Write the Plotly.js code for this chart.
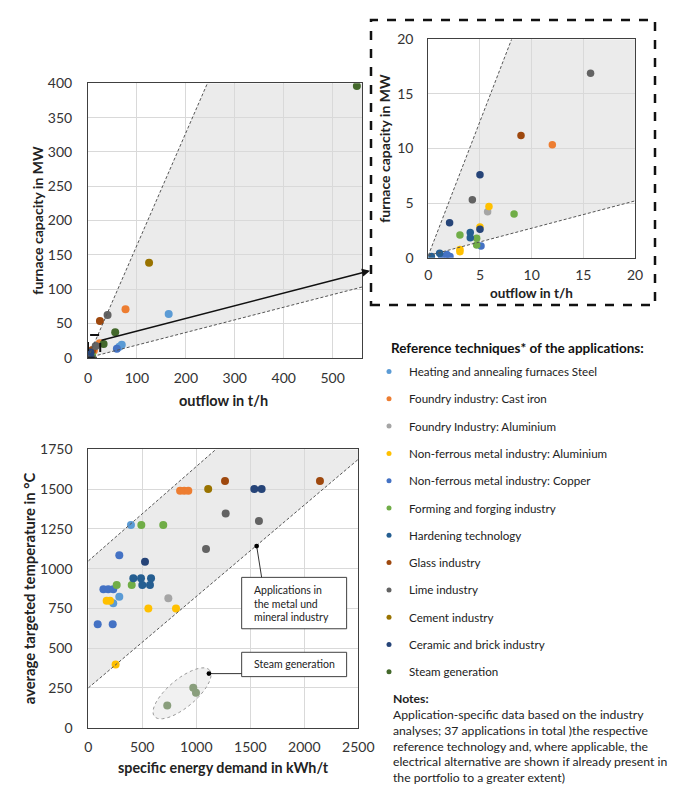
<!DOCTYPE html>
<html>
<head>
<meta charset="utf-8">
<script src="https://cdn.plot.ly/plotly-3.0.1.min.js"></script>
<style>html,body{margin:0;padding:0;background:#fff;}#chart{width:697px;height:805px;}</style>
</head>
<body>
<div id="chart"></div>
<script>
// ---------- DATA ----------
const categories = [
  "Heating and annealing furnaces Steel",
  "Foundry industry: Cast iron",
  "Foundry Industry: Aluminium",
  "Non-ferrous metal industry: Aluminium",
  "Non-ferrous metal industry: Copper",
  "Forming and forging industry",
  "Hardening technology",
  "Glass industry",
  "Lime industry",
  "Cement industry",
  "Ceramic and brick industry",
  "Steam generation"
];
const colors = ["#5B9BD5","#ED7D31","#A5A5A5","#FFC000","#4472C4","#70AD47",
                "#255E91","#9E480E","#636363","#997300","#264478","#43682B"];

// outflow in t/h (top charts)
const outflow = [
  [164.9, 69, 64],
  [76.7, 12.0, 24],
  [5.74],
  [5.87, 5.0, 3.06, 3.06],
  [5.1, 1.3, 1.8, 2.1, 59],
  [8.3, 3.06, 4.68, 4.68],
  [4.06, 4.06, 1.1, 0.3],
  [8.97, 24.4],
  [15.7, 4.26, 40],
  [124.8],
  [5.0, 2.06, 5.0],
  [549.5, 55.6, 31.9]
];
// furnace capacity in MW (top charts)
const capacity = [
  [63.7, 19, 16],
  [70.5, 10.35, 21],
  [4.2],
  [4.7, 2.8, 0.76, 0.55],
  [1.07, 0.1, 0.3, 0.1, 13],
  [4.0, 2.07, 1.77, 1.16],
  [2.3, 1.83, 0.4, 0.1],
  [11.2, 53.5],
  [16.9, 5.3, 62.2],
  [138.5],
  [7.6, 3.2, 2.6],
  [396, 37, 20]
];
// specific energy demand in kWh/t (bottom chart)
const energy = [
  [395, 287, 231],
  [850, 888, 926],
  [741],
  [170, 201, 556, 812, 253],
  [287, 140, 185, 231, 87, 226],
  [491, 694, 263, 402],
  [417, 488, 581, 500, 571],
  [1266, 2145],
  [1272, 1580, 1090],
  [1110],
  [525, 1537, 1605],
  [731, 972, 997]
];
// average targeted temperature in °C (bottom chart)
const temperature = [
  [1274, 823, 782],
  [1490, 1490, 1490],
  [813],
  [798, 798, 750, 750, 398],
  [1084, 870, 870, 870, 650, 650],
  [1274, 1274, 897, 897],
  [939, 939, 939, 897, 897],
  [1551, 1551],
  [1347, 1299, 1124],
  [1500],
  [1043, 1500, 1500],
  [140, 251, 220]
];
// axis titles
const xTitleTop = "outflow in t/h";
const yTitleTop = "furnace capacity in MW";
const xTitleBottom = "specific energy demand in kWh/t";
const yTitleBottom = "average targeted temperature in °C";

// ---------- FIGURE ----------
const W = 697, H = 805;
const FONT = "Lato, 'Liberation Sans', sans-serif";
const px = v => v / W;
const py = v => 1 - v / H;

const traces = [];
categories.forEach((name, i) => {
  traces.push({type:'scatter', mode:'markers', x:outflow[i], y:capacity[i], xaxis:'x', yaxis:'y',
    marker:{color:colors[i], size:8}, name:name, showlegend:false, hoverinfo:'skip'});
  traces.push({type:'scatter', mode:'markers', x:outflow[i], y:capacity[i], xaxis:'x2', yaxis:'y2',
    marker:{color:colors[i], size:7.5}, name:name, showlegend:false, hoverinfo:'skip'});
  traces.push({type:'scatter', mode:'markers', x:energy[i], y:temperature[i], xaxis:'x3', yaxis:'y3',
    marker:{color:colors[i], size:8}, name:name, showlegend:false, hoverinfo:'skip'});
});
// legend entries
categories.forEach((name, i) => {
  traces.push({type:'scatter', mode:'markers', x:[null], y:[null], xaxis:'x3', yaxis:'y3',
    marker:{color:colors[i], size:5}, name:name, legendgroup:'g'+i, showlegend:true});
});

function axis(extra){
  return Object.assign({
    showgrid:true, gridcolor:'#d9d9d9', gridwidth:1,
    showline:true, linecolor:'#404040', linewidth:1, mirror:true,
    zeroline:false, ticks:'', fixedrange:true,
    tickfont:{family:FONT, size:14, color:'#333333'}
  }, extra);
}
function titleObj(text, size){
  return {text:'<b>'+text+'</b>', font:{family:FONT, size:size||14, color:'#222222'}};
}
function xTitleAnn(text, xc, yc, size){
  return {xref:'paper', yref:'paper', x:px(xc), y:py(yc), xanchor:'center', yanchor:'middle', showarrow:false,
          text:'<b>'+text+'</b>', font:{family:FONT, size:size, color:'#222222'}};
}

const dashLine = {color:'#555555', width:1, dash:'3px,2px'};
const fillGray = '#ebebeb';

// ellipse around steam points (decoration), built in pixel units then mapped to data units
const bxPerUnit = 270 / 2500, byPerUnit = 278.4 / 1750;
function ellipsePath(cx, cy, a, b, deg){
  const th = deg * Math.PI / 180; let d = '';
  for (let k = 0; k <= 48; k++){
    const t = 2 * Math.PI * k / 48;
    const dx = a*Math.cos(th)*Math.cos(t) - b*Math.sin(th)*Math.sin(t);
    const dy = a*Math.sin(th)*Math.cos(t) + b*Math.cos(th)*Math.sin(t);
    d += (k === 0 ? 'M' : 'L') + (cx + dx / bxPerUnit).toFixed(1) + ',' + (cy + dy / byPerUnit).toFixed(1) + ' ';
  }
  return d + 'Z';
}

const shapes = [
  // main top chart
  {type:'path', xref:'x', yref:'y', path:'M0,0 L244,400 L560,400 L560,103 Z', fillcolor:fillGray, line:{width:0}, layer:'below'},
  {type:'line', xref:'x', yref:'y', x0:0, y0:0, x1:244, y1:400, line:dashLine},
  {type:'line', xref:'x', yref:'y', x0:0, y0:0, x1:560, y1:103, line:dashLine},
  {type:'rect', xref:'x', yref:'y', x0:0, y0:0, x1:25, y1:33, line:{color:'#111', width:2, dash:'dash'}},
  // inset
  {type:'path', xref:'x2', yref:'y2', path:'M0,0.2 L8.06,20 L20,20 L20,5.2 Z', fillcolor:fillGray, line:{width:0}, layer:'below'},
  {type:'line', xref:'x2', yref:'y2', x0:0, y0:0.2, x1:8.06, y1:20, line:dashLine},
  {type:'line', xref:'x2', yref:'y2', x0:0, y0:0.2, x1:20, y1:5.2, line:dashLine},
  // inset frame
  {type:'rect', xref:'paper', yref:'paper', x0:px(371), x1:px(655), y0:py(305), y1:py(20), line:{color:'#111', width:2.5, dash:'dash'}},
  // bottom chart
  {type:'path', xref:'x3', yref:'y3', path:'M0,250 L0,1048 L1182,1750 L2500,1750 L2500,1687 Z', fillcolor:fillGray, line:{width:0}, layer:'below'},
  {type:'line', xref:'x3', yref:'y3', x0:0, y0:1048, x1:1182, y1:1750, line:dashLine},
  {type:'line', xref:'x3', yref:'y3', x0:0, y0:250, x1:2500, y1:1687, line:dashLine},
  {type:'path', xref:'x3', yref:'y3', path:ellipsePath(868, 216, 36, 14, 40), fillcolor:'rgba(225,225,225,0.45)', line:{color:'#999999', width:1, dash:'dot'}, layer:'above'},
  // callout boxes
  {type:'rect', xref:'x3', yref:'y3', x0:1420, x1:2392, y0:622, y1:945, line:{color:'#404040', width:1}, fillcolor:'#ffffff'},
  {type:'rect', xref:'x3', yref:'y3', x0:1420, x1:2392, y0:321, y1:474, line:{color:'#404040', width:1}, fillcolor:'#ffffff'},
  {type:'line', xref:'x3', yref:'y3', x0:1559, y0:1142, x1:1605, y1:945, line:{color:'#333', width:1}},
  {type:'line', xref:'x3', yref:'y3', x0:1117, y0:340, x1:1420, y1:340, line:{color:'#333', width:1}},
  {type:'circle', xref:'x3', yref:'y3', x0:1559-22, x1:1559+22, y0:1142-15, y1:1142+15, fillcolor:'#000', line:{width:0}},
  {type:'circle', xref:'x3', yref:'y3', x0:1117-22, x1:1117+22, y0:340-15, y1:340+15, fillcolor:'#000', line:{width:0}}
];

const annotations = [
  {xref:'paper', yref:'paper', x:px(370), y:py(270.7), ax:-270, ay:70, axref:'pixel', ayref:'pixel',
   text:'', showarrow:true, arrowhead:2, arrowsize:1, arrowwidth:1.6, arrowcolor:'#111', standoff:0},
  xTitleAnn(xTitleTop, 224, 400, 14.5),
  xTitleAnn(xTitleTop, 531.7, 293, 13.5),
  xTitleAnn(xTitleBottom, 223, 767, 14.3),
  {xref:'x3', yref:'y3', x:1519, y:782, xanchor:'left', yanchor:'middle', align:'left', showarrow:false,
   text:'Applications in<br>the metal und<br>mineral industry', font:{family:FONT, size:10.5, color:'#222'}},
  {xref:'x3', yref:'y3', x:1519, y:398, xanchor:'left', yanchor:'middle', align:'left', showarrow:false,
   text:'Steam generation', font:{family:FONT, size:10.5, color:'#222'}},
  {xref:'paper', yref:'paper', x:px(389), y:py(348), xanchor:'left', yanchor:'middle', showarrow:false,
   text:'<b>Reference techniques* of the applications:</b>', font:{family:FONT, size:13.5, color:'#111'}},
  {xref:'paper', yref:'paper', x:px(391), y:py(689), xanchor:'left', yanchor:'top', align:'left', showarrow:false,
   text:'<b>Notes:</b><br>Application-specific data based on the industry<br>analyses; 37 applications in total )the respective<br>reference technology and, where applicable, the<br>electrical alternative are shown if already present in<br>the portfolio to a greater extent)',
   font:{family:FONT, size:12.2, color:'#222'}}
];

const layout = {
  width:W, height:H, margin:{l:0, r:0, t:0, b:0},
  paper_bgcolor:'#ffffff', plot_bgcolor:'#ffffff',
  font:{family:FONT, color:'#222'},
  showlegend:true,
  legend:{x:px(369), y:py(357), xanchor:'left', yanchor:'top', bgcolor:'rgba(0,0,0,0)',
          font:{family:FONT, size:11.6, color:'#222'}, tracegroupgap:8.3, traceorder:'grouped'},
  xaxis: axis({domain:[px(88), px(362)], range:[0,560], dtick:100, anchor:'y', ticklabelstandoff:7}),
  yaxis: axis({domain:[py(357.7), py(83.3)], range:[0,400], dtick:50, anchor:'x', ticklabelstandoff:12,
               title:titleObj(yTitleTop, 14)}),
  xaxis2: axis({domain:[px(428.3), px(635)], range:[0,20], dtick:5, anchor:'y2', ticklabelstandoff:4}),
  yaxis2: axis({domain:[py(257.7), py(39.3)], range:[0,20], dtick:5, anchor:'x2', ticklabelstandoff:11,
               title:titleObj(yTitleTop, 14)}),
  xaxis3: axis({domain:[px(88.3), px(358.3)], range:[0,2500], dtick:500, anchor:'y3', ticklabelstandoff:6}),
  yaxis3: axis({domain:[py(727.7), py(449.3)], range:[0,1750], dtick:250, anchor:'x3', ticklabelstandoff:12,
               title:titleObj(yTitleBottom, 14.8)}),
  shapes:shapes, annotations:annotations
};

Plotly.newPlot('chart', traces, layout, {displayModeBar:false, staticPlot:true});
</script>
</body>
</html>
